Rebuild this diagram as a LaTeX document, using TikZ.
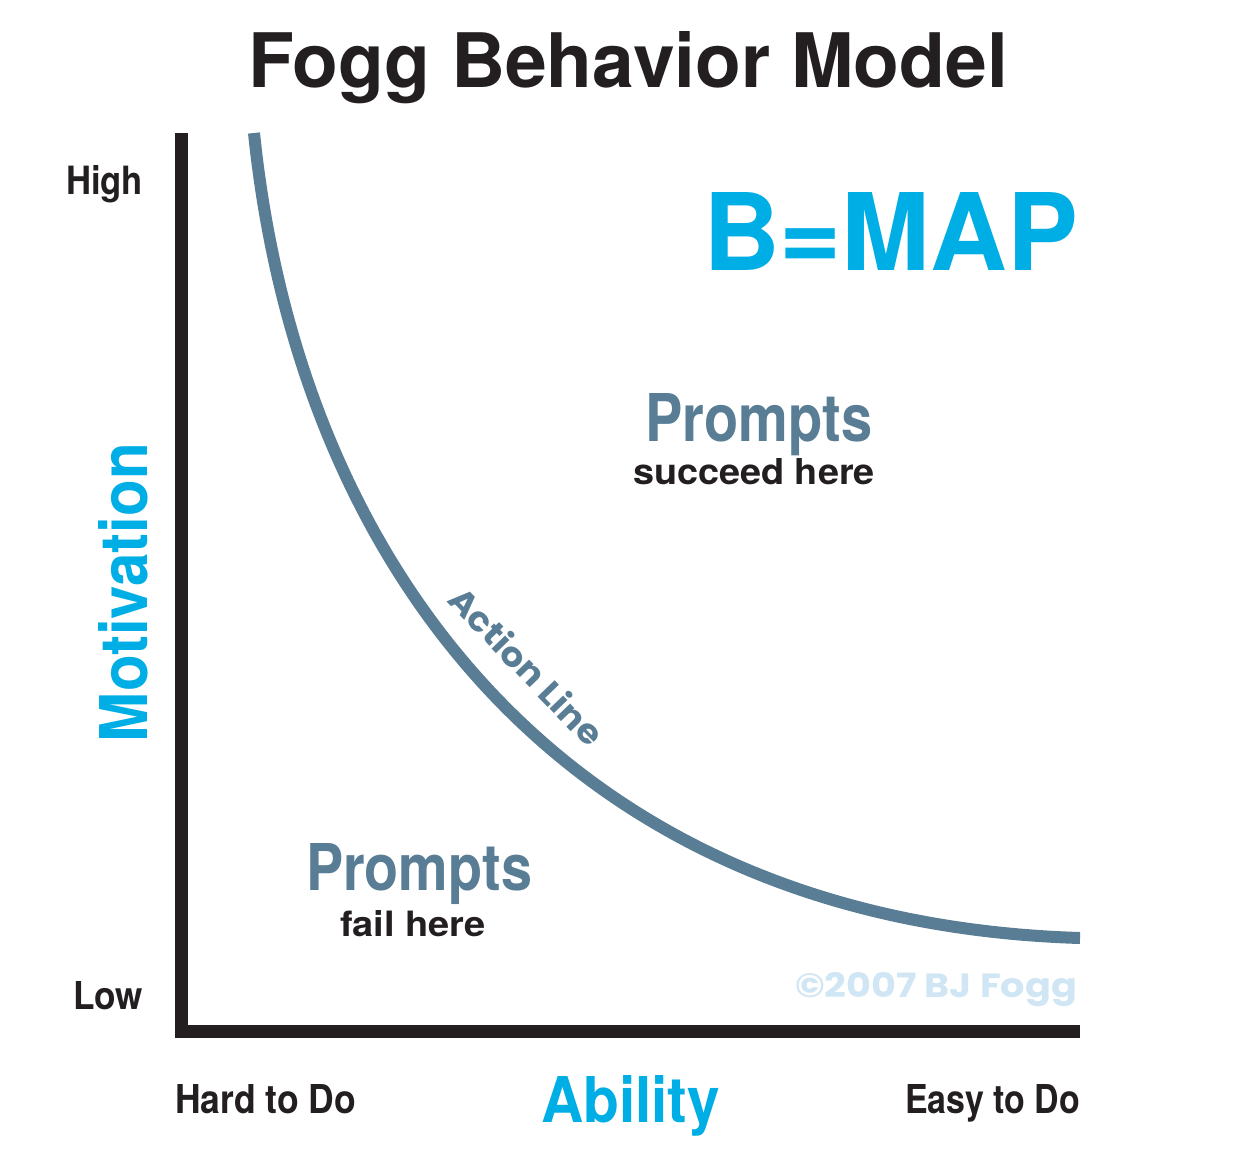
\documentclass[tikz,border=0pt]{standalone}
\usepackage{fontspec}
\usepackage{graphicx}
\setmainfont{TeX Gyre Heros}
\newfontfamily\geo{Poppins}
\definecolor{inkblack}{RGB}{35,31,32}
\definecolor{bmapcyan}{RGB}{0,174,230}
\definecolor{slate}{RGB}{88,125,148}
\definecolor{copyblue}{RGB}{208,230,244}
\newcommand{\fitt}[3]{\resizebox{#1pt}{#2pt}{\bfseries #3}}
\begin{document}
\begin{tikzpicture}[x=1pt,y=-1pt,
  lbl/.style={inner sep=0pt,outer sep=0pt,anchor=base west},
  axisline/.style={line width=13pt,inkblack,line join=miter,line cap=butt},
  actionline/.style={line width=12pt,slate,line cap=butt}]
\fill[white] (0,0) rectangle (1252,1170);
\useasboundingbox (0,0) rectangle (1252,1170);
% axes
\coordinate (ytop) at (181,133);
\coordinate (origin) at (181,1031);
\coordinate (xend) at (1080,1031);
\draw[axisline] (ytop) -- (origin) -- (xend);
% action line
\coordinate (cstart) at (254,133);
\coordinate (cend) at (1080,938);
\draw[actionline] (cstart) .. controls (298,560) and (560,922) .. (cend);
% texts
\node[lbl,text=inkblack] (title) at (248,87) {\fitt{760}{56}{Fogg Behavior Model}};
\node[lbl,text=bmapcyan] (bmap) at (703,270) {\fitt{375}{78}{B=MAP}};
\node[lbl,text=slate] (pup) at (645,441) {\fitt{227}{48}{Prompts}};
\node[lbl,text=inkblack] (succ) at (633,484) {\fitt{242}{26}{succeed here}};
\node[lbl,text=slate] (plow) at (306,890) {\fitt{226}{47}{Prompts}};
\node[lbl,text=inkblack] (fail) at (340,936) {\fitt{146}{26}{fail here}};
\node[lbl,text=inkblack] (high) at (66,194) {\fitt{77}{29}{High}};
\node[lbl,text=inkblack] (low) at (73,1009) {\fitt{70}{28}{Low}};
\node[lbl,text=inkblack] (hard) at (175,1113) {\fitt{181}{29}{Hard to Do}};
\node[lbl,text=bmapcyan] (ability) at (541,1122) {\fitt{179}{47}{Ability}};
\node[lbl,text=inkblack] (easy) at (905,1113) {\fitt{175}{29}{Easy to Do}};
\node[lbl,text=bmapcyan,rotate=90] (motiv) at (147,742) {\fitt{299}{49}{Motivation}};
\node[lbl,text=copyblue] (copy) at (795,997) {\resizebox{282pt}{25pt}{\geo\bfseries ©2007 BJ Fogg}};
\node[inner sep=0pt,text=slate,rotate=-46] (actlbl) at (527,666) {\resizebox{205pt}{27pt}{\geo\bfseries Action Line}};
\end{tikzpicture}
\end{document}
